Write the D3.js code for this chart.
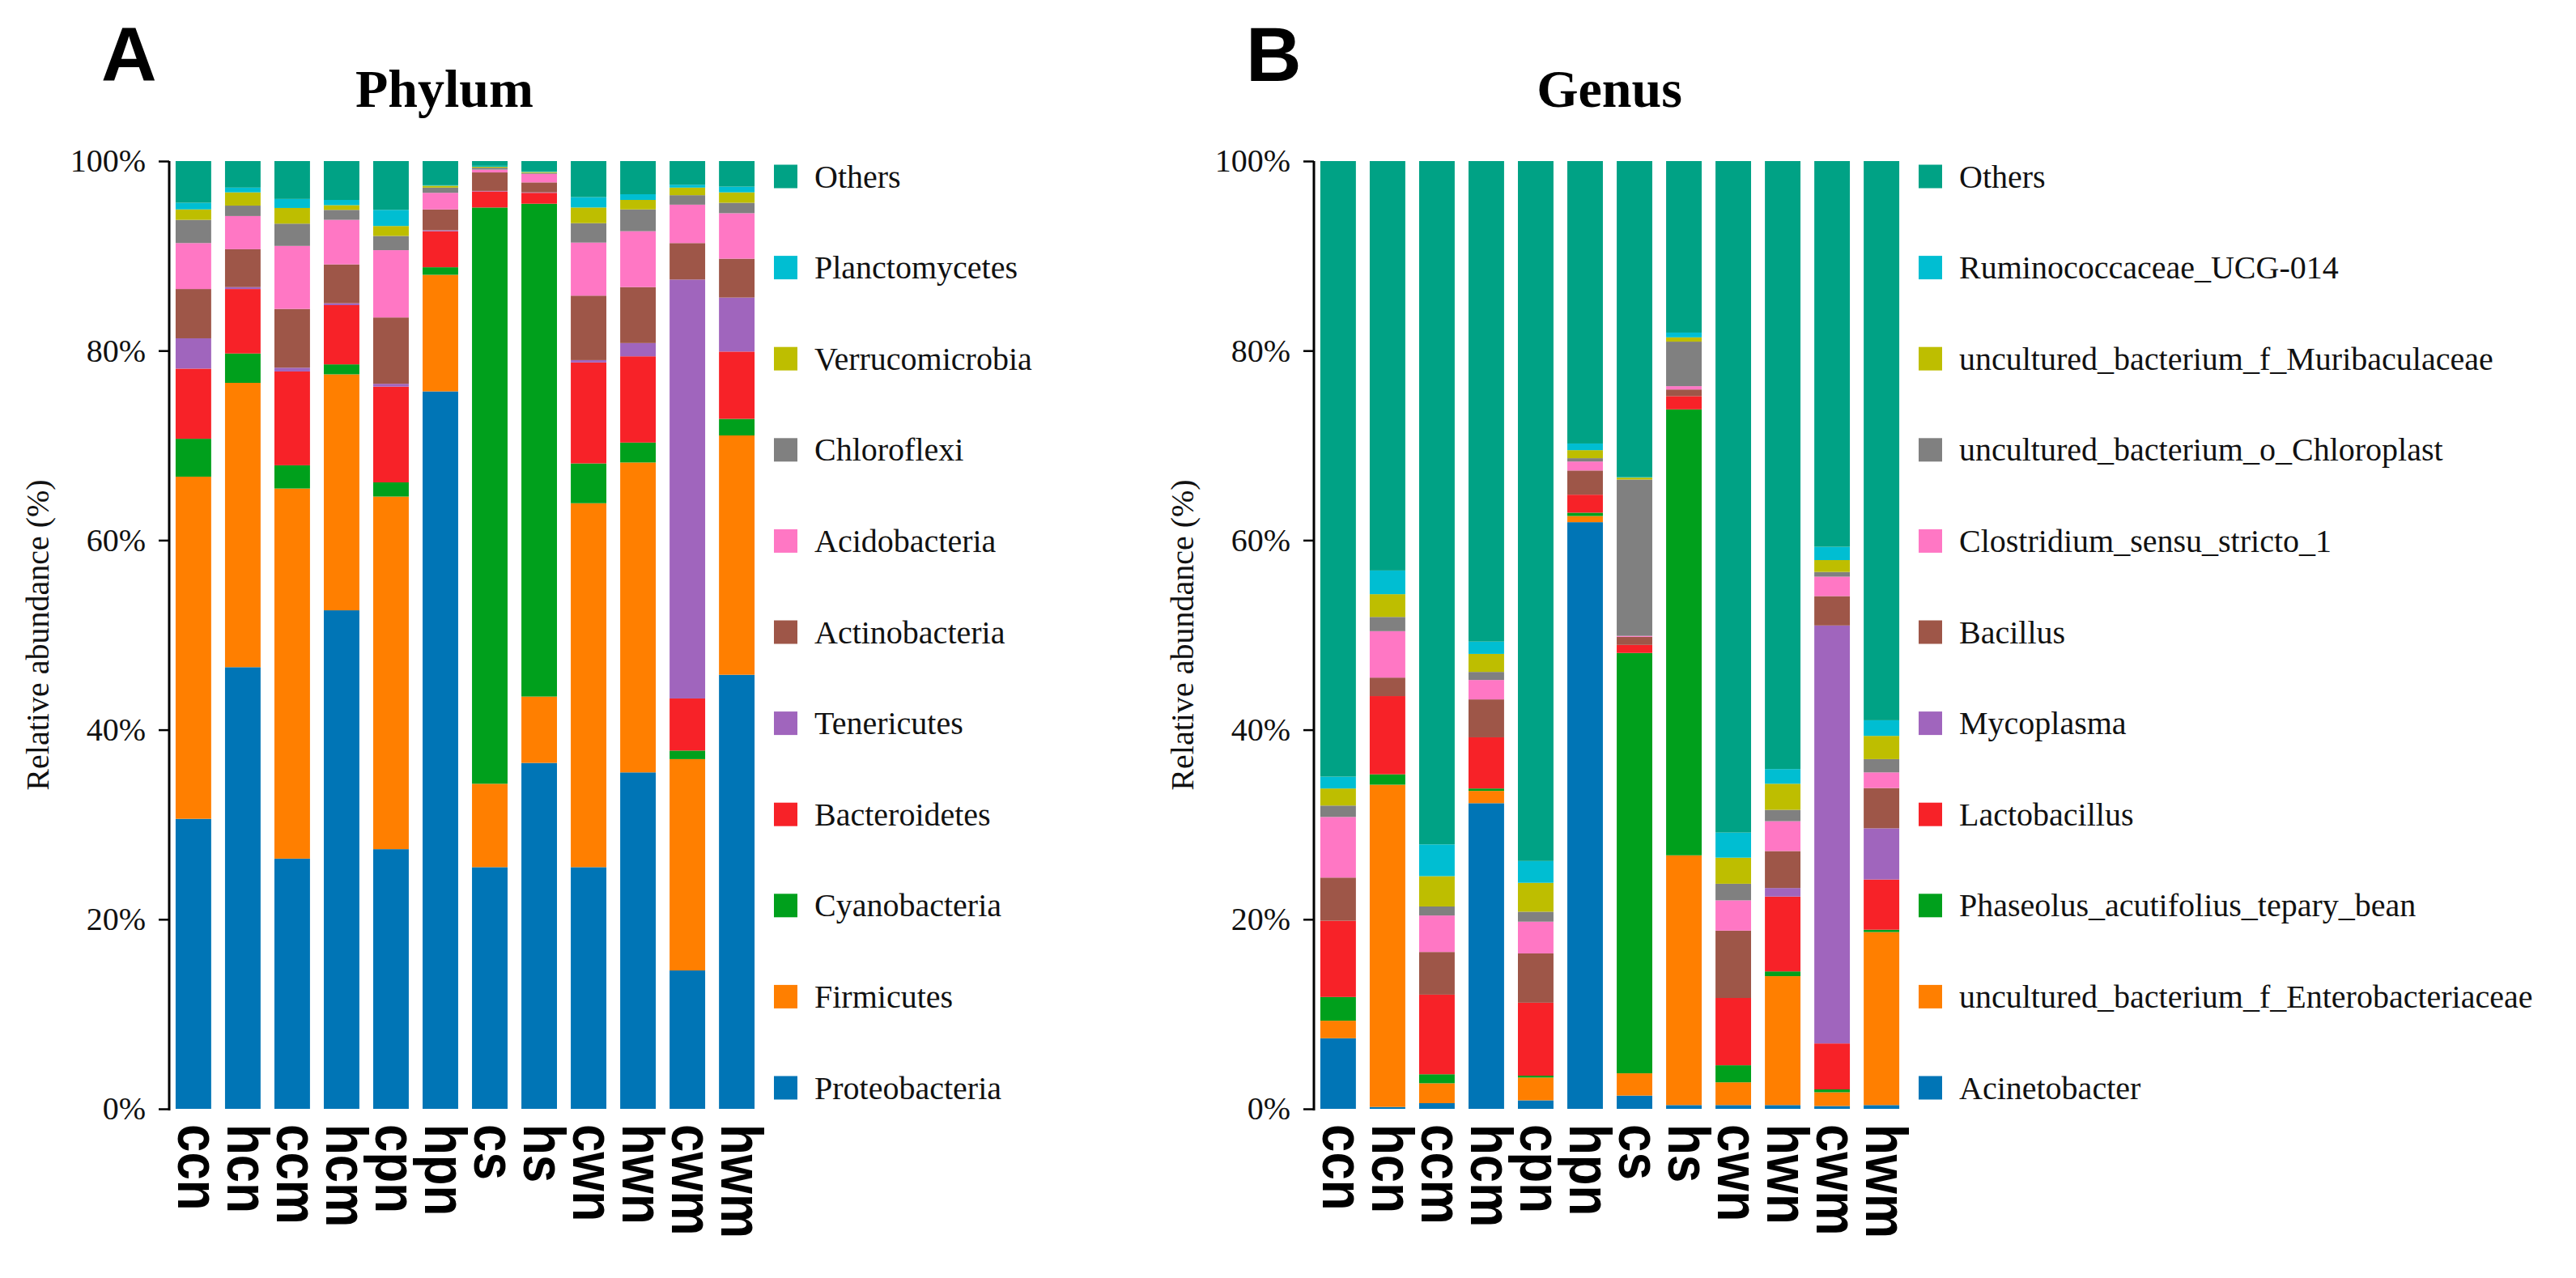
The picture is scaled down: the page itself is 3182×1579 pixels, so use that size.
<!DOCTYPE html>
<html>
<head>
<meta charset="utf-8">
<script src="https://cdn.jsdelivr.net/npm/d3@7"></script>
<style>
  body { margin: 0; background: #fff; }
  svg { display: block; }
  .tick text { font-family: "Liberation Serif", "Times New Roman", serif; }
</style>
</head>
<body>
<script>
  // samples, shared by both panels
  const samples = ['ccn', 'hcn', 'ccm', 'hcm', 'cpn', 'hpn', 'cs', 'hs', 'cwn', 'hwn', 'cwm', 'hwm'];
  const yTicks = [0, 20, 40, 60, 80, 100];

  // stacking order, bottom -> top
  const phylumNames = ['Proteobacteria', 'Firmicutes', 'Cyanobacteria', 'Bacteroidetes', 'Tenericutes',
    'Actinobacteria', 'Acidobacteria', 'Chloroflexi', 'Verrucomicrobia', 'Planctomycetes', 'Others'];
  const genusNames = ['Acinetobacter', 'uncultured_bacterium_f_Enterobacteriaceae', 'Phaseolus_acutifolius_tepary_bean',
    'Lactobacillus', 'Mycoplasma', 'Bacillus', 'Clostridium_sensu_stricto_1', 'uncultured_bacterium_o_Chloroplast',
    'uncultured_bacterium_f_Muribaculaceae', 'Ruminococcaceae_UCG-014', 'Others'];

  const colors = ['#0075b6', '#ff7f00', '#00a01c', '#f72228', '#a065bd', '#9e5648',
    '#ff77c4', '#808080', '#bebe00', '#00bed2', '#00a285'];

  // Phylum (%), one array per taxon, in sample order
  const proteobacteria  = [30.6, 46.6, 26.4, 52.6, 27.4, 75.7, 25.5, 36.5, 25.5, 35.5, 14.6, 45.8];
  const firmicutes      = [36.1, 30.0, 39.05, 24.9, 37.2, 12.3, 8.8, 7.0, 38.4, 32.7, 22.3, 25.25];
  const cyanobacteria   = [4.0, 3.1, 2.45, 1.05, 1.5, 0.8, 60.8, 52.0, 4.2, 2.1, 0.9, 1.75];
  const bacteroidetes   = [7.4, 6.8, 9.9, 6.25, 10.1, 3.8, 1.7, 1.15, 10.65, 9.1, 5.5, 7.1];
  const tenericutes     = [3.2, 0.2, 0.4, 0.2, 0.3, 0.1, 0.05, 0.05, 0.25, 1.4, 44.2, 5.7];
  const actinobacteria  = [5.2, 4.0, 6.2, 4.1, 7.0, 2.2, 1.95, 1.05, 6.8, 5.9, 3.85, 4.1];
  const acidobacteria   = [4.85, 3.5, 6.65, 4.7, 7.1, 1.75, 0.3, 0.9, 5.6, 5.9, 4.05, 4.8];
  const chloroflexi     = [2.45, 1.1, 2.35, 1.05, 1.5, 0.55, 0.2, 0.1, 2.05, 2.3, 1.0, 1.1];
  const verrucomicrobia = [1.1, 1.4, 1.65, 0.5, 1.05, 0.2, 0.1, 0.1, 1.65, 1.0, 0.8, 1.1];
  const planctomycetes  = [0.7, 0.5, 0.95, 0.55, 1.7, 0.05, 0.1, 0.05, 1.1, 0.6, 0.3, 0.6];
  const phylumOthers    = [4.4, 2.8, 4.0, 4.1, 5.15, 2.55, 0.5, 1.1, 3.8, 3.5, 2.5, 2.7];

  // Genus (%), one array per taxon, in sample order
  const acinetobacter      = [7.45, 0.2, 0.6, 32.25, 0.9, 61.9, 1.4, 0.4, 0.4, 0.4, 0.3, 0.4];
  const enterobacteriaceae = [1.85, 34.0, 2.1, 1.3, 2.4, 0.65, 2.35, 26.35, 2.4, 13.6, 1.45, 18.25];
  const teparyBean         = [2.5, 1.1, 0.95, 0.25, 0.2, 0.35, 44.35, 47.05, 1.8, 0.5, 0.3, 0.25];
  const lactobacillus      = [8.05, 8.25, 8.4, 5.4, 7.7, 1.9, 0.85, 1.4, 7.1, 7.9, 4.85, 5.3];
  const mycoplasma         = [0, 0, 0, 0, 0, 0, 0, 0, 0, 0.9, 44.1, 5.4];
  const bacillus           = [4.55, 1.95, 4.5, 4.0, 5.2, 2.55, 0.85, 0.7, 7.1, 3.9, 3.1, 4.25];
  const clostridium        = [6.4, 4.9, 3.85, 2.05, 3.35, 0.95, 0.1, 0.35, 3.2, 3.15, 2.05, 1.65];
  const chloroplast        = [1.2, 1.5, 0.95, 0.85, 1.05, 0.35, 16.5, 4.7, 1.75, 1.2, 0.5, 1.4];
  const muribaculaceae     = [1.8, 2.4, 3.2, 1.9, 3.05, 0.85, 0.2, 0.45, 2.75, 2.75, 1.25, 2.45];
  const ruminococcaceae    = [1.25, 2.5, 3.35, 1.3, 2.3, 0.7, 0.05, 0.5, 2.65, 1.55, 1.4, 1.65];
  const genusOthers        = [64.95, 43.2, 72.1, 50.7, 73.85, 29.8, 33.35, 18.1, 70.85, 64.15, 40.7, 59.0];

  const phylumSeries = [proteobacteria, firmicutes, cyanobacteria, bacteroidetes, tenericutes,
    actinobacteria, acidobacteria, chloroflexi, verrucomicrobia, planctomycetes, phylumOthers];
  const genusSeries = [acinetobacter, enterobacteriaceae, teparyBean, lactobacillus, mycoplasma,
    bacillus, clostridium, chloroplast, muribaculaceae, ruminococcaceae, genusOthers];

  const width = 3182;
  const height = 1579;
  const plotTop = 199;
  const plotBottom = 1370;

  const svg = d3.select('body')
    .append('svg')
    .attr('width', width)
    .attr('height', height);

  const serif = '"Liberation Serif", "Times New Roman", serif';
  const sans = '"Liberation Sans", Arial, sans-serif';

  const drawPanel = ({ left, letter, title, titleX, names, series }) => {
    const rows = samples.map((s, i) => {
      const row = { sample: s };
      names.forEach((n, k) => { row[n] = series[k][i]; });
      return row;
    });
    const stacked = d3.stack().keys(names)(rows);

    const x = d3.scaleBand()
      .domain(samples)
      .range([left, left + 731])
      .paddingInner(0.28)
      .paddingOuter(0.13);

    const y = d3.scaleLinear().domain([0, 100]).range([plotBottom, plotTop]);

    const color = d3.scaleOrdinal().domain(names).range(colors);

    const g = svg.append('g');

    // panel letter and title
    g.append('text')
      .attr('x', left - 84)
      .attr('y', 100)
      .attr('font-family', sans)
      .attr('font-weight', 'bold')
      .attr('font-size', 95)
      .text(letter);

    g.append('text')
      .attr('x', titleX)
      .attr('y', 132)
      .attr('text-anchor', 'middle')
      .attr('font-family', serif)
      .attr('font-weight', 'bold')
      .attr('font-size', 66)
      .text(title);

    // stacked bars
    g.append('g')
      .selectAll('g')
      .data(stacked)
      .join('g')
      .attr('fill', (d) => color(d.key))
      .selectAll('rect')
      .data((d) => d)
      .join('rect')
      .attr('x', (d) => x(d.data.sample))
      .attr('width', x.bandwidth())
      .attr('y', (d) => y(d[1]))
      .attr('height', (d) => Math.max(0, y(d[0]) - y(d[1])));

    // y axis
    const axis = g.append('g')
      .attr('transform', `translate(${left},0)`)
      .call(d3.axisLeft(y).tickValues(yTicks).tickFormat((d) => d + '%')
        .tickSize(13).tickSizeOuter(0).tickPadding(16));
    axis.select('.domain').attr('stroke-width', 3).attr('d', `M0,${plotTop}V${plotBottom + 2}`);
    axis.selectAll('.tick line').attr('stroke-width', 2.5);
    axis.selectAll('.tick text')
      .attr('font-size', 40)
      .attr('fill', '#111')
      .attr('font-family', serif);

    g.append('text')
      .attr('transform', `translate(${left - 149},${(plotTop + plotBottom) / 2}) rotate(-90)`)
      .attr('text-anchor', 'middle')
      .attr('font-family', serif)
      .attr('font-size', 40)
      .attr('fill', '#111')
      .text('Relative abundance (%)');

    // sample labels, rotated
    g.append('g')
      .selectAll('text')
      .data(samples)
      .join('text')
      .attr('transform', (d) =>
        `translate(${x(d) + x.bandwidth() / 2},${plotBottom + 19}) rotate(90) scale(0.86,1)`)
      .attr('dy', '0.26em')
      .attr('font-family', sans)
      .attr('font-weight', 'bold')
      .attr('font-size', 72)
      .text((d) => d);

    // legend, top entry = last stacked series
    const legendY = d3.scalePoint()
      .domain(names.slice().reverse())
      .range([218, 1344]);

    const legend = g.append('g')
      .selectAll('g')
      .data(names)
      .join('g')
      .attr('transform', (d) => `translate(${left + 747},${legendY(d)})`);

    legend.append('rect')
      .attr('x', 0)
      .attr('y', -14.5)
      .attr('width', 29)
      .attr('height', 29)
      .attr('fill', (d) => color(d));

    legend.append('text')
      .attr('x', 50)
      .attr('dy', '0.34em')
      .attr('font-family', serif)
      .attr('font-size', 40)
      .attr('fill', '#111')
      .text((d) => d);
  };

  drawPanel({ left: 209, letter: 'A', title: 'Phylum', titleX: 549, names: phylumNames, series: phylumSeries });
  drawPanel({ left: 1623, letter: 'B', title: 'Genus', titleX: 1988, names: genusNames, series: genusSeries });
</script>
</body>
</html>
